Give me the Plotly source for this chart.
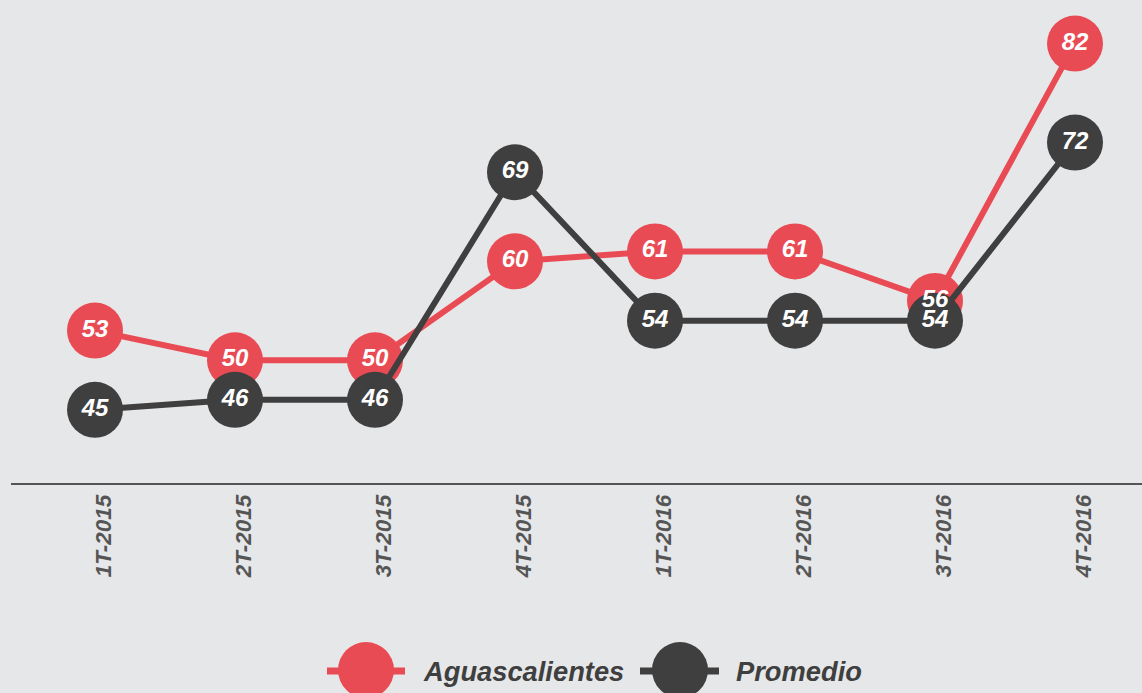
import plotly.graph_objects as go

categories = ["1T-2015", "2T-2015", "3T-2015", "4T-2015", "1T-2016", "2T-2016", "3T-2016", "4T-2016"]
aguascalientes = [53, 50, 50, 60, 61, 61, 56, 82]
promedio = [45, 46, 46, 69, 54, 54, 54, 72]

RED = "#E94B54"
DARK = "#3F3F3F"
BG = "#E6E7E9"
FONT = "Liberation Sans"

W, H = 1142, 693
ML, MR, MT, MB = 11, 0, 5, 210
PW, PH = W - ML - MR, H - MT - MB

fig = go.Figure()
for name, vals, col in [("Aguascalientes", aguascalientes, RED), ("Promedio", promedio, DARK)]:
    fig.add_trace(go.Scatter(
        x=categories, y=vals, name=name, mode="lines+markers",
        line=dict(color=col, width=6),
        marker=dict(color=col, size=56, line=dict(width=0)),
        showlegend=False, hoverinfo="skip"))
for vals in [aguascalientes, promedio]:
    fig.add_trace(go.Scatter(
        x=categories, y=vals, mode="text", text=[str(v) for v in vals],
        textposition="middle center",
        textfont=dict(family=FONT, size=24, color="white", weight="bold", style="italic"),
        showlegend=False, hoverinfo="skip"))

# custom legend (large symbols), positioned in paper coordinates
def px_x(p):
    return (p - ML) / PW

def px_y(p):
    return (H - MB - p) / PH

legend_items = [("Aguascalientes", RED, 366, 327, 405, 421), ("Promedio", DARK, 680, 640, 719, 734)]
shapes = []
annotations = []
for name, col, cx, lx0, lx1, tx in legend_items:
    shapes.append(dict(type="line", xref="paper", yref="paper",
                       x0=px_x(lx0), x1=px_x(lx1), y0=px_y(671), y1=px_y(671),
                       line=dict(color=col, width=7)))
    shapes.append(dict(type="circle", xref="paper", yref="paper",
                       xsizemode="pixel", ysizemode="pixel",
                       xanchor=px_x(cx), yanchor=px_y(670),
                       x0=-28, x1=28, y0=-28, y1=28,
                       fillcolor=col, line=dict(width=0)))
    annotations.append(dict(xref="paper", yref="paper", x=px_x(tx), y=px_y(671),
                            text=name, showarrow=False, xanchor="left", yanchor="middle",
                            font=dict(family=FONT, size=27.3, color=DARK, weight="bold", style="italic")))

x0 = -(95 - ML) / 140
x1 = 7 + (W - 1075) / 140
fig.update_layout(
    width=W, height=H,
    margin=dict(l=ML, r=MR, t=MT, b=MB),
    paper_bgcolor=BG, plot_bgcolor=BG,
    xaxis=dict(type="category", range=[x0, x1], showgrid=False, zeroline=False,
               showline=True, linecolor="#555555", linewidth=1.5, ticks="", tickangle=-90,
               ticklabelshift=9, ticklabelstandoff=1,
               tickfont=dict(family=FONT, size=22.5, color="#555555", weight="bold", style="italic")),
    yaxis=dict(range=[37.6, 85.9], visible=False, showgrid=False, zeroline=False),
    shapes=shapes, annotations=annotations,
)

fig.write_html("out.html", config={"displayModeBar": False},
               post_script="document.body.style.margin='0';document.body.style.background='#E6E7E9';")
